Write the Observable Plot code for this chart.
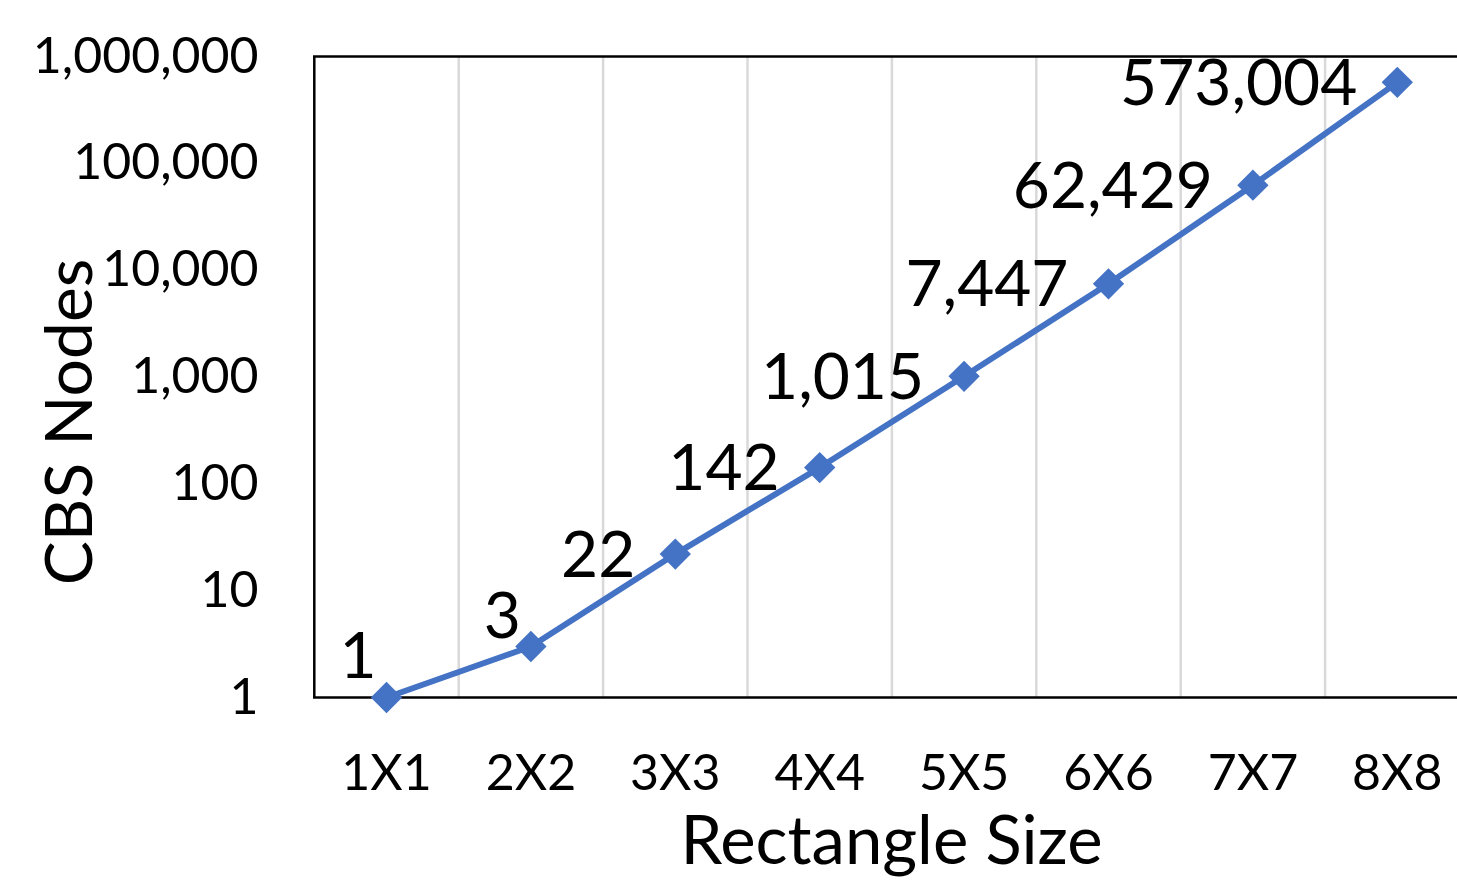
<!DOCTYPE html>
<html>
<head>
<meta charset="utf-8">
<script src="https://cdn.jsdelivr.net/npm/d3@7"></script>
<script src="https://cdn.jsdelivr.net/npm/@observablehq/plot@0.6"></script>
<style>
  html, body { margin: 0; padding: 0; background: #fff; overflow: hidden; }
  #chart svg { display: block; }
</style>
</head>
<body>
<div id="chart"></div>
<script>
const categories = ["1X1", "2X2", "3X3", "4X4", "5X5", "6X6", "7X7", "8X8"];
const nodes = [1, 3, 22, 142, 1015, 7447, 62429, 573004];
const yTicks = [1, 10, 100, 1000, 10000, 100000, 1000000];
const xTitle = "Rectangle Size";
const yTitle = "CBS Nodes";

const data = categories.map((c, i) => ({idx: i + 1, cat: c, value: nodes[i]}));
const boundaries = categories.slice(1).map((c, i) => i + 1.5);
const fmt = d3.format(",");
const blue = "#4472C4";
const font = "Lato, 'Open Sans', sans-serif";

const chart = Plot.plot({
  width: 1457,
  height: 882,
  marginLeft: 313,
  marginRight: 0,
  marginTop: 56,
  marginBottom: 185,
  style: {fontFamily: font, color: "#000", background: "#fff"},
  x: {type: "linear", domain: [0.5, categories.length + 0.5], range: [313.8, 313.8 + 144.4 * categories.length]},
  y: {type: "log", domain: [1, 1000000]},
  marks: [
    Plot.ruleX(boundaries, {x: d => d, y1: 1, y2: 1000000, stroke: "#d9d9d9", strokeWidth: 2.5}),
    Plot.ruleY([1000000], {stroke: "#000", strokeWidth: 2.5}),
    Plot.ruleY([1], {stroke: "#000", strokeWidth: 2.5}),
    Plot.ruleX([0.5], {y1: 1, y2: 1000000, stroke: "#000", strokeWidth: 2.5}),
    Plot.axisX({ticks: data.map(d => d.idx), tickFormat: i => categories[i - 1], tickSize: 0, tickPadding: 57, fontSize: 50, label: null}),
    Plot.axisY({ticks: yTicks, tickFormat: fmt, tickSize: 0, tickPadding: 55, fontSize: 50, label: null}),
    Plot.line(data, {x: "idx", y: "value", stroke: blue, strokeWidth: 6}),
    Plot.dot(data, {x: "idx", y: "value", symbol: "square", r: 12.5, rotate: 45, fill: blue, stroke: "none"}),
    Plot.text(data, {filter: (d, i) => i >= 2, x: "idx", y: "value", text: d => fmt(d.value), textAnchor: "end", dx: -40, dy: 2, fontSize: 64, fill: "#000"}),
    Plot.text(data, {filter: (d, i) => i === 0, x: "idx", y: "value", text: d => fmt(d.value), textAnchor: "end", dx: -10, dy: -40, fontSize: 64, fill: "#000"}),
    Plot.text(data, {filter: (d, i) => i === 1, x: "idx", y: "value", text: d => fmt(d.value), textAnchor: "end", dx: -10, dy: -29, fontSize: 64, fill: "#000"}),
    Plot.text([yTitle], {frameAnchor: "left", textAnchor: "middle", rotate: -90, dx: -243, dy: 45, fontSize: 66, fill: "#000"}),
    Plot.text([xTitle], {frameAnchor: "bottom", textAnchor: "middle", dx: 6, dy: 166, fontSize: 67, fill: "#000"})
  ]
});
document.getElementById("chart").appendChild(chart);
</script>
</body>
</html>
